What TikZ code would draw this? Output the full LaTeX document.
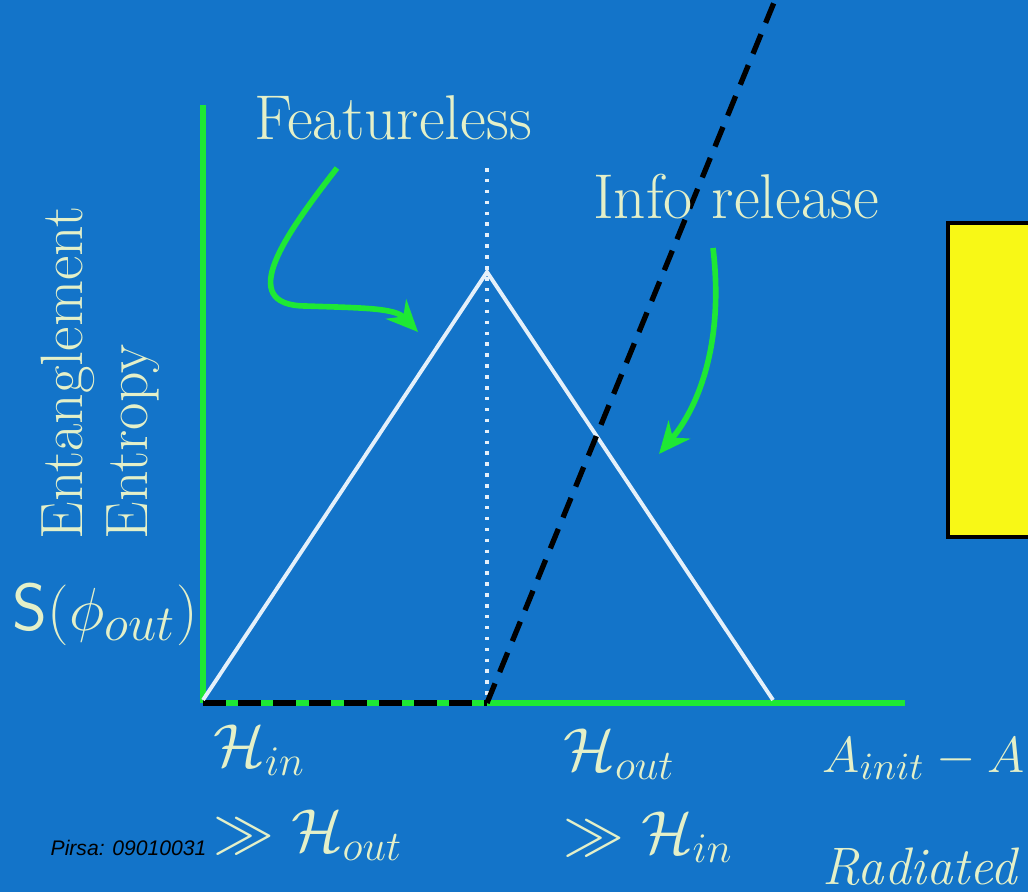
\documentclass[tikz,border=0pt]{standalone}
\usepackage{fontspec}
\newfontfamily\pirsafont{Liberation Sans}
\usetikzlibrary{arrows.meta}
\definecolor{slideblue}{RGB}{19,116,201}
\definecolor{axisgreen}{RGB}{30,232,52}
\definecolor{chalk}{RGB}{228,240,200}
\definecolor{curvewhite}{RGB}{228,240,250}
\definecolor{boxyellow}{RGB}{248,248,22}
\tikzset{
    axis/.style = {draw = axisgreen, line width = 1.5pt},
    pointer/.style = {draw = axisgreen, line width = 1.6pt, -{Stealth[length = 9pt, width = 8pt]}},
    label/.style = {text = chalk, font = \fontsize{17}{20}\selectfont, inner sep = 0pt},
}
\begin{document}
\begin{tikzpicture}[x = 0.01cm, y = -0.01cm]
        \clip (0,0) rectangle (1028,892);
        \fill[slideblue] (0,0) rectangle (1028,892);
        % box on the right, cut by the edge
        \draw[fill = boxyellow, line width = 1.3pt] (948,223) rectangle (1060,537);
        \begin{scope}
            \coordinate (O) at (203,703);
            \coordinate (top) at (203,105);
            \coordinate (end) at (905,703);
            \coordinate (mid) at (487,703);
            \coordinate (peak) at (487,272);
            \coordinate (foot) at (773,700);
            \draw[axis] (O) -- (top);
            \draw[axis, line width = 1.8pt] (O) -- (end);
            \draw[line width = 1.8pt, dash pattern = on 6.5pt off 3.5pt] (O) -- (mid);
            \draw[curvewhite, line width = 1.1pt, line join = miter] (203,700) -- (peak) -- (foot);
            \draw[curvewhite, line width = 1.2pt, dash pattern = on 1pt off 2.1pt] (487,168) -- (487,700);
            \draw[black, line width = 1.5pt, dash pattern = on 6pt off 3.5pt] (mid) -- (775,0);
        \end{scope}
        \begin{scope}[every node/.append style = {label}]
            \node (feat) at (393,118) {\fontsize{18}{21}\selectfont Featureless};
            \node (info) at (736,197) {\fontsize{18}{21}\selectfont Info release};
            \node[rotate = 90, anchor = base west] (ylabA) at (82,540) {Entanglement};
            \node[rotate = 90, anchor = base west] (ylabB) at (147,540) {Entropy};
            \node[anchor = base west] (sout) at (12,630) {\fontsize{19}{22}\selectfont $\mathsf{S}(\phi_{out})$};
            \node[anchor = base west] (hin) at (213,766) {$\mathcal{H}_{in}$};
            \node[anchor = base west] (hinll) at (213,851) {$\gg \mathcal{H}_{out}$};
            \node[anchor = base west] (hout) at (563,770) {$\mathcal{H}_{out}$};
            \node[anchor = base west] (houtll) at (563,853) {$\gg \mathcal{H}_{in}$};
            \node[anchor = base west] (area) at (822,772) {\fontsize{15}{18}\selectfont $A_{init} - A$};
            \node[anchor = base west] (rad) at (822,884) {\fontsize{15}{18}\selectfont\itshape Radiated};
        \end{scope}
        \node[anchor = base west, inner sep = 0pt, font = \pirsafont\itshape\fontsize{6}{7}\selectfont] (pirsa) at (50,855) {Pirsa: 09010031};
        % green pointers
        \coordinate (fs) at (337,168);
        \coordinate (fe) at (418,332);
        \coordinate (is) at (713,248);
        \coordinate (ie) at (659,454);
        \draw[pointer] (fs) .. controls (285,235) and (235,305) .. (305,306) .. controls (365,308) and (395,308) .. (fe);
        \draw[pointer] (is) .. controls (724,340) and (700,405) .. (ie);
    \end{tikzpicture}
\end{document}
